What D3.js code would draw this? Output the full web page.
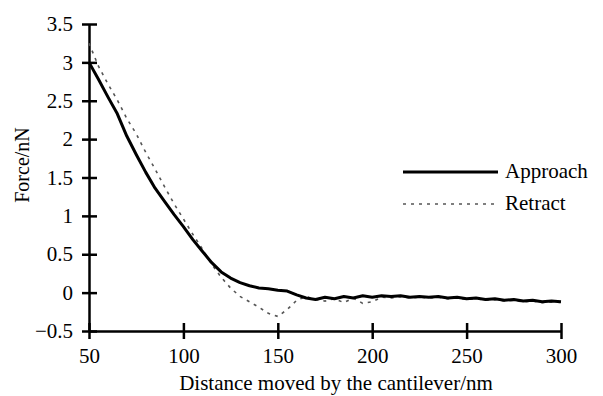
<!DOCTYPE html>
<html lang="en">
<head>
  <meta charset="UTF-8">
  <title>Force curve</title>
  <style>
    body { margin: 0; background: #fff; }
    text { font-family: "Liberation Serif", "Times New Roman", serif; }
  </style>
</head>
<body>
  <div id="chart"></div>
  <script src="https://d3js.org/d3.v7.min.js"></script>
  <script>
    // data ===================================================================
    const approachDist = [50, 55, 60, 65, 70, 75, 80, 85, 90, 95, 100, 105, 110, 115, 120, 125, 130, 135, 140, 145,
      150, 155, 160, 165, 170, 175, 180, 185, 190, 195, 200, 205, 210, 215, 220, 225, 230, 235, 240, 245,
      250, 255, 260, 265, 270, 275, 280, 285, 290, 295, 300]
    const approach = [3.00, 2.78, 2.55, 2.33, 2.04, 1.80, 1.57, 1.36, 1.19, 1.02, 0.86, 0.69, 0.54, 0.39, 0.27, 0.19, 0.13, 0.09, 0.06, 0.05,
      0.03, 0.02, -0.03, -0.07, -0.09, -0.06, -0.08, -0.05, -0.07, -0.04, -0.06, -0.04, -0.05, -0.04, -0.06, -0.05, -0.06, -0.05, -0.07, -0.06,
      -0.08, -0.07, -0.09, -0.08, -0.10, -0.09, -0.11, -0.10, -0.12, -0.11, -0.12]

    const retractDist = [50, 55, 60, 65, 70, 75, 80, 85, 90, 95, 100, 105, 110, 115, 120, 125, 130, 135, 140, 145,
      150, 155, 160, 165, 170, 175, 180, 185, 190, 195, 200, 205, 210, 215, 220, 225, 230, 235, 240, 245,
      250, 255, 260, 265, 270, 275, 280, 285, 290, 295, 300]
    const retract = [3.25, 2.95, 2.72, 2.51, 2.27, 2.07, 1.83, 1.61, 1.38, 1.16, 0.96, 0.76, 0.57, 0.37, 0.20, 0.06, -0.05, -0.12, -0.19, -0.27,
      -0.31, -0.22, -0.10, -0.05, -0.09, -0.11, -0.08, -0.13, -0.07, -0.14, -0.12, -0.06, -0.07, -0.05, -0.07, -0.06, -0.07, -0.06, -0.08, -0.07,
      -0.09, -0.08, -0.10, -0.09, -0.11, -0.10, -0.12, -0.11, -0.13, -0.12, -0.13]

    const xTicks = [50, 100, 150, 200, 250, 300]
    const yTicks = [-0.5, 0, 0.5, 1, 1.5, 2, 2.5, 3, 3.5]
    const seriesNames = ['Approach', 'Retract']

    // plot area ==============================================================
    const width = 603, height = 396
    const svg = d3.select('#chart')
      .append('svg')
      .attr('width', width)
      .attr('height', height)

    const x = d3.scaleLinear().domain([50, 300]).range([89, 561])
    const y = d3.scaleLinear().domain([-0.5, 3.5]).range([331, 24])

    // axes with ticks crossing the line
    const yAxis = svg.append('g')
      .attr('transform', `translate(${x(50)},0)`)
      .call(d3.axisLeft(y).tickValues(yTicks).tickFormat(d3.format('')).tickSize(7).tickSizeOuter(0).tickPadding(9))
    yAxis.selectAll('.tick line').attr('x1', 8).attr('stroke-width', 2.5)
    yAxis.select('.domain').attr('stroke-width', 2.5)
    yAxis.selectAll('.tick text').attr('font-size', 21).attr('fill', '#000')
      .style('font-family', '"Liberation Serif", serif')

    const xAxis = svg.append('g')
      .attr('transform', `translate(0,${y(-0.5)})`)
      .call(d3.axisBottom(x).tickValues(xTicks).tickSize(8).tickSizeOuter(0).tickPadding(9))
    xAxis.selectAll('.tick line').attr('y1', -8).attr('stroke-width', 2.5)
    xAxis.select('.domain').attr('stroke-width', 2.5)
    xAxis.selectAll('.tick text').attr('font-size', 21).attr('fill', '#000')
      .style('font-family', '"Liberation Serif", serif')

    // axis titles
    svg.append('text')
      .attr('x', 336)
      .attr('y', 390)
      .attr('text-anchor', 'middle')
      .attr('font-size', 21)
      .text('Distance moved by the cantilever/nm')

    svg.append('text')
      .attr('transform', 'translate(29,165) rotate(-90)')
      .attr('text-anchor', 'middle')
      .attr('font-size', 20)
      .text('Force/nN')

    // lines ==================================================================
    const line = d3.line().x(d => x(d[0])).y(d => y(d[1]))

    svg.append('path')
      .datum(retractDist.map((d, i) => [d, retract[i]]))
      .attr('d', line)
      .attr('fill', 'none')
      .attr('stroke', '#555')
      .attr('stroke-width', 1.6)
      .attr('stroke-dasharray', '3,5')

    svg.append('path')
      .datum(approachDist.map((d, i) => [d, approach[i]]))
      .attr('d', line)
      .attr('fill', 'none')
      .attr('stroke', '#000')
      .attr('stroke-width', 3)
      .attr('stroke-linejoin', 'round')

    // legend =================================================================
    const legend = svg.append('g')
    seriesNames.forEach((name, i) => {
      const ly = 172 + i * 32
      legend.append('line')
        .attr('x1', 403).attr('x2', 498)
        .attr('y1', ly).attr('y2', ly)
        .attr('stroke', i === 0 ? '#000' : '#555')
        .attr('stroke-width', i === 0 ? 3 : 1.6)
        .attr('stroke-dasharray', i === 0 ? null : '3,5')
      legend.append('text')
        .attr('x', 505)
        .attr('y', ly + 6)
        .attr('font-size', 21)
        .text(name)
    })
  </script>
</body>
</html>
